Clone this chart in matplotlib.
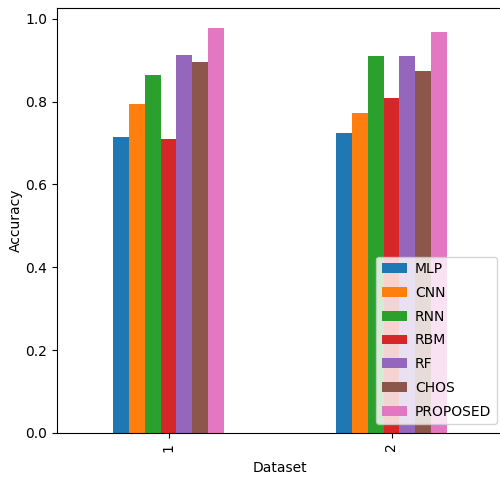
import matplotlib
matplotlib.use("Agg")
import matplotlib.pyplot as plt
import pandas as pd

datasets = ["1", "2"]
models = ["MLP", "CNN", "RNN", "RBM", "RF", "CHOS", "PROPOSED"]
mlp = [0.714, 0.725]
cnn = [0.794, 0.773]
rnn = [0.864, 0.911]
rbm = [0.709, 0.809]
rf = [0.912, 0.909]
chos = [0.896, 0.873]
proposed = [0.977, 0.967]

df = pd.DataFrame(
    {"MLP": mlp, "CNN": cnn, "RNN": rnn, "RBM": rbm,
     "RF": rf, "CHOS": chos, "PROPOSED": proposed},
    index=pd.Index(datasets, name="Dataset"),
)[models]

fig = plt.figure(figsize=(5, 4.8), dpi=100)
ax = fig.add_axes([57 / 500, 1 - 433 / 480, 446 / 500, 425 / 480])
df.plot(kind="bar", ax=ax)

ax.set_ylabel("Accuracy", fontsize=10)
ax.yaxis.set_label_coords(-0.076, 0.5)
ax.set_xlabel("Dataset", fontsize=10, labelpad=7)

ax.legend(loc="lower right", bbox_to_anchor=(0.9865, 0.021),
          prop={"size": 10}, handlelength=1.8, handletextpad=0.6,
          borderpad=0.4, labelspacing=0.7, borderaxespad=0)
fig.savefig("out.png", dpi=100)
